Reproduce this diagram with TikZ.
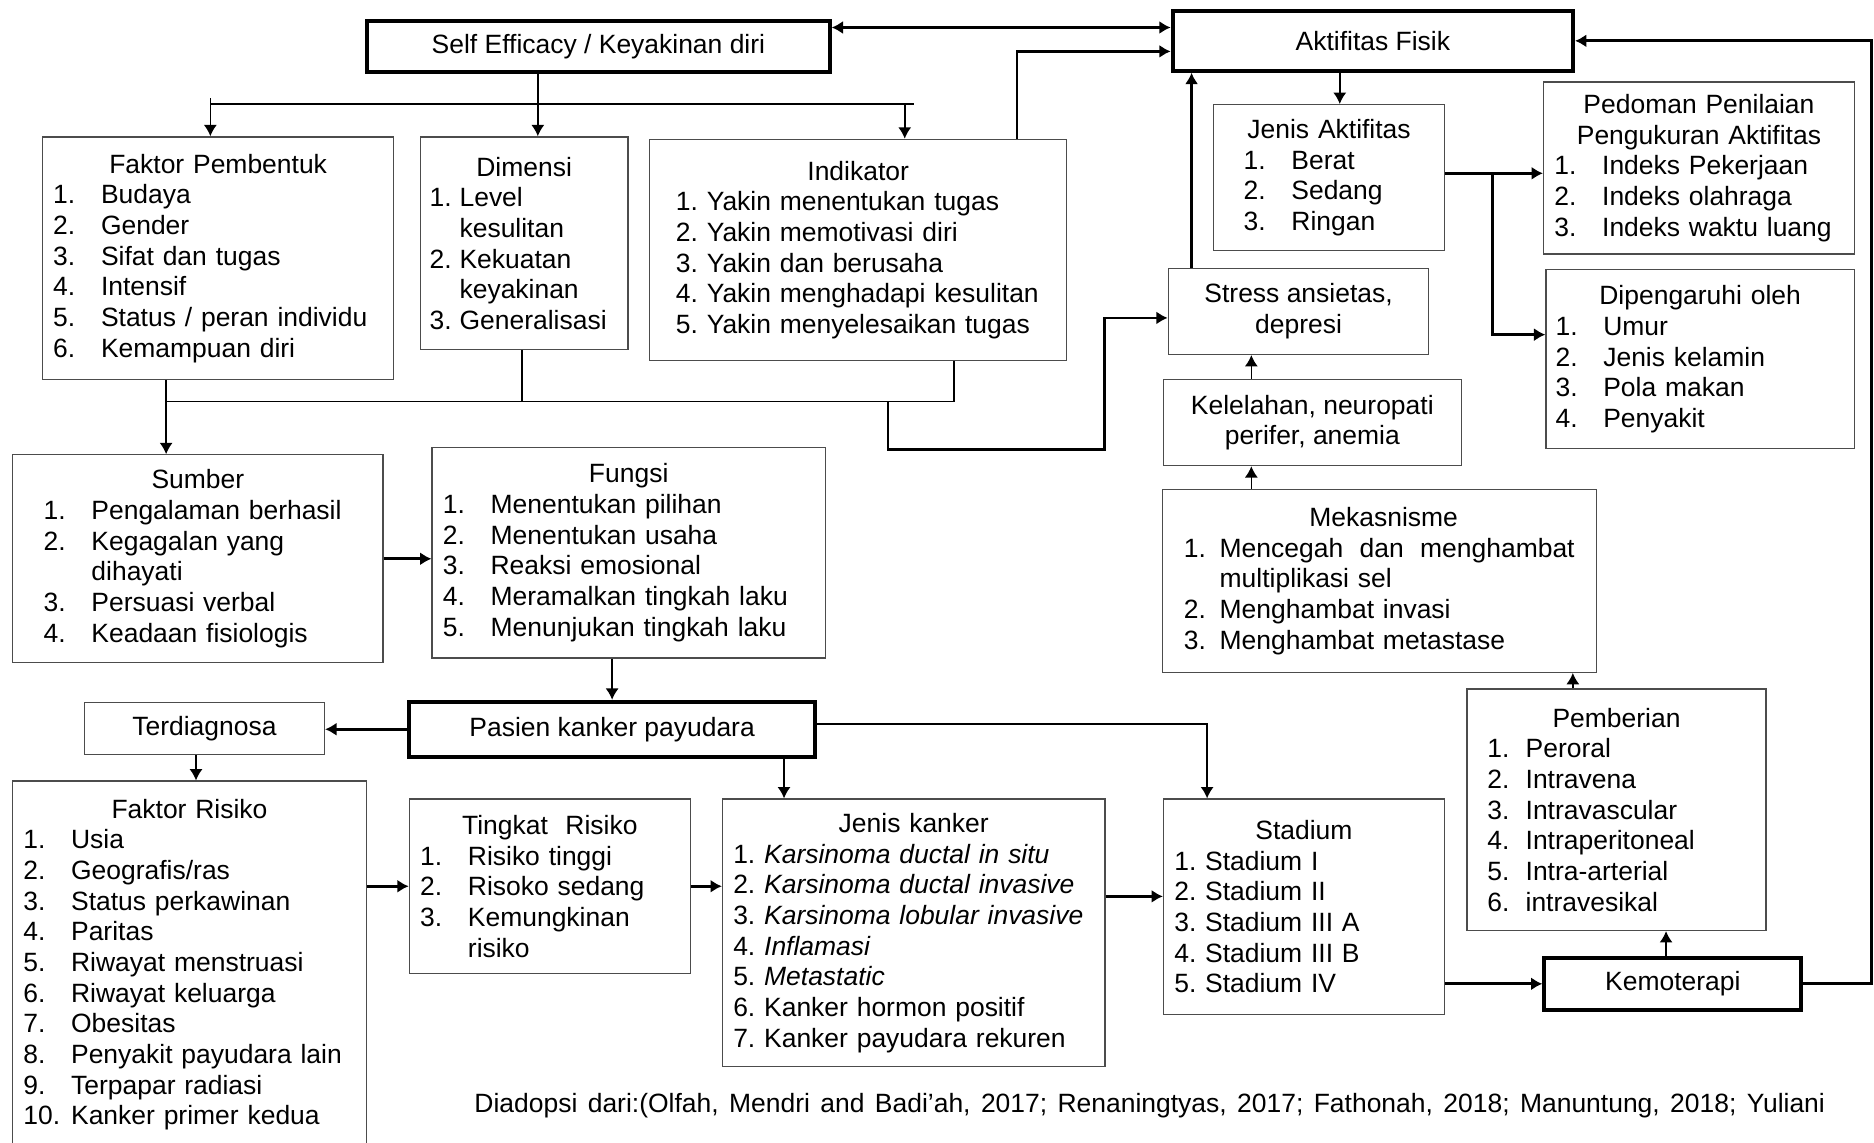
\documentclass[tikz,border=0pt]{standalone}
\usepackage{fontspec}
\setmainfont{Liberation Sans}
\usetikzlibrary{arrows.meta}
\newcommand{\ttl}[1]{\makebox[\linewidth]{#1}}
\newcommand{\nr}[3][8mm]{\makebox[#1][l]{#2}\mbox{#3}}

\begin{document}
\begin{tikzpicture}[x=0.2mm, y=-0.2mm,
        >={Latex[length=1.9mm,width=2.2mm]},
        box/.style={draw=black!70, line width=0.6pt, anchor=north west, align=left, inner ysep=0pt},
        plainbox/.style={draw=black!70, line width=0.6pt, anchor=north west, align=center, inner sep=0pt},
        mainbox/.style={draw, line width=1.9pt, anchor=north west, align=center, inner sep=0pt},
        link/.style={line width=0.8pt},
        arrow/.style={link, ->},
        boldarrow/.style={arrow, line width=1.3pt}]
                    \useasboundingbox (0,0) rectangle (1568,956);
                    {\fontsize{12.6}{14.6}\selectfont\frenchspacing

                    % Box Self Efficacy
                    \node[mainbox, minimum width=77.4mm, minimum height=8.6mm] (se) at (305.5,15.5) {Self Efficacy / Keyakinan diri};%

                    % Box Aktifitas Fisik
                    \node[mainbox, minimum width=67mm, minimum height=10mm] (af) at (979.5,7.5) {Aktifitas Fisik};%

                    % Box Faktor Pembentuk
                    \node[box, inner xsep=1.8mm, text width=55.2mm, minimum height=40.6mm] (fp) at (35,114) {\ttl{Faktor Pembentuk}\\
                      \nr{1.}{Budaya}\\ \nr{2.}{Gender}\\ \nr{3.}{Sifat dan tugas}\\ \nr{4.}{Intensif}\\
                      \nr{5.}{Status / peran individu}\\ \nr{6.}{Kemampuan diri}};%

                    % Box Dimensi
                    \node[box, inner xsep=1.6mm, text width=31.6mm, minimum height=35.6mm] (dim) at (351,114) {\ttl{Dimensi}\\
                      \nr[5mm]{1.}{Level}\\ \nr[5mm]{}{kesulitan}\\ \nr[5mm]{2.}{Kekuatan}\\ \nr[5mm]{}{keyakinan}\\
                      \nr[5mm]{3.}{Generalisasi}};%

                    % Box Indikator
                    \node[box, inner xsep=4.4mm, text width=61mm, minimum height=37mm] (ind) at (543,116) {\ttl{Indikator}\\
                      \mbox{1. Yakin menentukan tugas}\\ \mbox{2. Yakin memotivasi diri}\\ \mbox{3. Yakin dan berusaha}\\
                      \mbox{4. Yakin menghadapi kesulitan}\\ \mbox{5. Yakin menyelesaikan tugas}};%

                    % Box Jenis Aktifitas
                    \node[box, inner xsep=5mm, text width=28.6mm, minimum height=24.4mm] (ja) at (1015,87) {\ttl{Jenis Aktifitas}\\
                      \nr{1.}{Berat}\\ \nr{2.}{Sedang}\\ \nr{3.}{Ringan}};%

                    % Box Pedoman Penilaian
                    \node[box, inner xsep=1.8mm, text width=48.4mm, minimum height=28.8mm] (ppa) at (1291,68) {\ttl{Pedoman Penilaian}\\
                      \ttl{Pengukuran Aktifitas}\\ \nr{1.}{Indeks Pekerjaan}\\ \nr{2.}{Indeks olahraga}\\ \nr{3.}{Indeks waktu luang}};%

                    % Box Stress
                    \node[plainbox, minimum width=43.6mm, minimum height=14.4mm] (stress) at (977,224) {Stress ansietas,\\ depresi};%

                    % Box Dipengaruhi oleh
                    \node[box, inner xsep=1.6mm, text width=48.4mm, minimum height=30mm] (dip) at (1293,225) {\ttl{Dipengaruhi oleh}\\
                      \nr{1.}{Umur}\\ \nr{2.}{Jenis kelamin}\\ \nr{3.}{Pola makan}\\ \nr{4.}{Penyakit}};%

                    % Box Kelelahan
                    \node[plainbox, minimum width=49.8mm, minimum height=14.4mm] (kel) at (973,317) {Kelelahan, neuropati\\ perifer, anemia};%

                    % Box Mekasnisme
                    \node[box, inner xsep=3.6mm, text width=65.4mm, minimum height=30.6mm] (mek) at (972,409) {\ttl{\ Mekasnisme}\\
                      \nr[6mm]{1.}{\makebox[59.4mm][l]{Mencegah\hfill dan\hfill menghambat}}\\ \nr[6mm]{}{multiplikasi sel}\\
                      \nr[6mm]{2.}{Menghambat invasi}\\ \nr[6mm]{3.}{Menghambat metastase}};%

                    % Box Pemberian
                    \node[box, inner xsep=3.4mm, text width=43.2mm, minimum height=40.4mm] (pem) at (1227,576) {\ttl{Pemberian}\\
                      \nr[6.4mm]{1.}{Peroral}\\ \nr[6.4mm]{2.}{Intravena}\\ \nr[6.4mm]{3.}{Intravascular}\\
                      \nr[6.4mm]{4.}{Intraperitoneal}\\ \nr[6.4mm]{5.}{Intra-arterial}\\ \nr[6.4mm]{6.}{intravesikal}};%

                    % Box Kemoterapi
                    \node[mainbox, minimum width=43mm, minimum height=8.8mm] (kemo) at (1290.5,799.5) {Kemoterapi};%

                    % Box Stadium
                    \node[box, inner xsep=1.8mm, text width=43.4mm, minimum height=36mm] (stad) at (973,668) {\ttl{Stadium}\\
                      1. Stadium I\\ 2. Stadium II\\ 3. Stadium III A\\ 4. Stadium III B\\ 5. Stadium IV};%

                    % Box Sumber
                    \node[box, inner xsep=5.2mm, text width=51.6mm, minimum height=34.8mm] (sum) at (10,380) {\ttl{Sumber}\\
                      \nr{1.}{Pengalaman berhasil}\\ \nr{2.}{Kegagalan yang}\\ \nr{}{dihayati}\\
                      \nr{3.}{Persuasi verbal}\\ \nr{4.}{Keadaan fisiologis}};%

                    % Box Fungsi
                    \node[box, inner xsep=1.8mm, text width=62.2mm, minimum height=35.2mm] (fun) at (361,374) {\ttl{Fungsi}\\
                      \nr{1.}{Menentukan pilihan}\\ \nr{2.}{Menentukan usaha}\\ \nr{3.}{Reaksi emosional}\\
                      \nr{4.}{Meramalkan tingkah laku}\\ \nr{5.}{Menunjukan tingkah laku}};%

                    % Box Pasien kanker payudara
                    \node[mainbox, minimum width=68mm, minimum height=9.2mm] (pas) at (340.5,585.5) {Pasien kanker payudara};%

                    % Box Terdiagnosa
                    \node[plainbox, minimum width=40.2mm, minimum height=8.8mm] (ter) at (70,587) {Terdiagnosa};%

                    % Box Faktor Risiko
                    \node[box, inner xsep=1.8mm, text width=55.6mm, minimum height=61.4mm] (fr) at (10,653) {\ttl{Faktor Risiko}\\
                      \nr{1.}{Usia}\\ \nr{2.}{Geografis/ras}\\ \nr{3.}{Status perkawinan}\\ \nr{4.}{Paritas}\\
                      \nr{5.}{Riwayat menstruasi}\\ \nr{6.}{Riwayat keluarga}\\ \nr{7.}{Obesitas}\\
                      \nr{8.}{Penyakit payudara lain}\\ \nr{9.}{Terpapar radiasi}\\ \nr{10.}{Kanker primer kedua}};%

                    % Box Tingkat Risiko
                    \node[box, inner xsep=1.8mm, text width=43.4mm, minimum height=29.2mm] (tr) at (342,668) {\ttl{Tingkat\ \ Risiko}\\
                      \nr{1.}{Risiko tinggi}\\ \nr{2.}{Risoko sedang}\\ \nr{3.}{Kemungkinan}\\ \nr{}{risiko}};%

                    % Box Jenis kanker
                    \node[box, inner xsep=1.8mm, text width=60.4mm, minimum height=44.8mm] (jk) at (604,668) {\ttl{Jenis kanker}\\
                      1. \textit{Karsinoma ductal in situ}\\ 2. \textit{Karsinoma ductal invasive}\\
                      3. \textit{Karsinoma lobular invasive}\\ 4. \textit{Inflamasi}\\ 5. \textit{Metastatic}\\
                      6. Kanker hormon positif\\ 7. Kanker payudara rekuren};%

                    % Source line
                    \node (cap) at (962,925) {\makebox[226mm][s]{Diadopsi dari:(Olfah, Mendri and Badi’ah, 2017; Renaningtyas, 2017; Fathonah, 2018; Manuntung, 2018; Yuliani}};%

                    % Drawing arrow se af
                    \coordinate (sefit) at (836,23);
                    \draw[boldarrow, <->] (se.east |- sefit) -- (af.west |- sefit);%

                    % Drawing arrow ind af
                    \coordinate (indup) at (851,43);
                    \draw[boldarrow] (ind.north -| indup) -- (indup) -- (af.west |- indup);%

                    % Drawing tree se fp dim ind
                    \coordinate (tee) at (450,87);
                    \coordinate (treeL) at (176,82);
                    \coordinate (treeR) at (765,87);
                    \coordinate (treeI) at (757,87);
                    \draw[link] (treeL |- tee) -- (treeR);%
                    \draw[arrow] (se.south -| tee) -- (tee |- dim.north);%
                    \draw[arrow] (treeL) -- (treeL |- fp.north);%
                    \draw[arrow] (treeI) -- (treeI |- ind.north);%

                    % Drawing collector fp dim ind
                    \coordinate (colL) at (139,336);
                    \coordinate (colD) at (437,336);
                    \coordinate (colR) at (798,336);
                    \coordinate (colS) at (743,336);
                    \draw[arrow] (fp.south -| colL) -- (colL |- sum.north);%
                    \draw[link] (colL) -- (colR);%
                    \draw[link] (dim.south -| colD) -- (colD);%
                    \draw[link] (ind.south -| colR) -- (colR);%

                    % Drawing arrow collector stress
                    \coordinate (bendA) at (743,376);
                    \coordinate (bendB) at (924,266);
                    \draw[boldarrow] (colS) -- (bendA) -- (bendA -| bendB) -- (bendB) -- (stress.west |- bendB);%

                    % Drawing arrow stress af
                    \coordinate (upS) at (997,150);
                    \draw[boldarrow] (stress.north -| upS) -- (af.south -| upS);%

                    % Drawing arrow af ja
                    \coordinate (upJ) at (1121,70);
                    \draw[arrow] (af.south -| upJ) -- (ja.north -| upJ);%

                    % Drawing arrows ja ppa dip
                    \coordinate (jaP) at (1249,145);
                    \coordinate (jaD) at (1249,280);
                    \draw[boldarrow] (ja.east |- jaP) -- (ppa.west |- jaP);%
                    \draw[boldarrow] (jaP) -- (jaD) -- (dip.west |- jaD);%

                    % Drawing arrows mek kel stress
                    \coordinate (upK) at (1047,360);
                    \draw[arrow] (kel.north -| upK) -- (stress.south -| upK);%
                    \draw[arrow] (mek.north -| upK) -- (kel.south -| upK);%

                    % Drawing arrow pem mek
                    \coordinate (upM) at (1316,570);
                    \draw[arrow] (pem.north -| upM) -- (mek.south -| upM);%

                    % Drawing arrow kemo pem
                    \coordinate (upP) at (1394,790);
                    \draw[arrow] (kemo.north -| upP) -- (pem.south -| upP);%

                    % Drawing arrow kemo af
                    \coordinate (rim) at (1566,400);
                    \draw[boldarrow] (kemo.east) -- (kemo.east -| rim) -- (rim |- af.east) -- (af.east);%

                    % Drawing arrow stad kemo
                    \draw[boldarrow] (stad.east |- kemo.west) -- (kemo.west);%

                    % Drawing arrow pas ter
                    \draw[boldarrow] (pas.west) -- (ter.east |- pas.west);%

                    % Drawing arrow fun pas
                    \draw[arrow] (pas.north |- fun.south) -- (pas.north);%

                    % Drawing arrow sum fun
                    \draw[boldarrow] (sum.east) -- (fun.west |- sum.east);%

                    % Drawing arrow ter fr
                    \coordinate (dnT) at (164,640);
                    \draw[arrow] (ter.south -| dnT) -- (fr.north -| dnT);%

                    % Drawing arrow pas jk
                    \coordinate (dnJ) at (656,650);
                    \draw[arrow] (pas.south -| dnJ) -- (jk.north -| dnJ);%

                    % Drawing arrow pas stad
                    \coordinate (dnS) at (1010,606);
                    \draw[arrow] (pas.east |- dnS) -- (dnS) -- (stad.north -| dnS);%

                    % Drawing arrows fr tr jk stad
                    \draw[boldarrow] (fr.east |- tr.west) -- (tr.west);%
                    \draw[boldarrow] (tr.east) -- (jk.west |- tr.east);%
                    \coordinate (jkS) at (950,750);
                    \draw[boldarrow] (jk.east |- jkS) -- (stad.west |- jkS);%
                    }
\end{tikzpicture}
\end{document}
